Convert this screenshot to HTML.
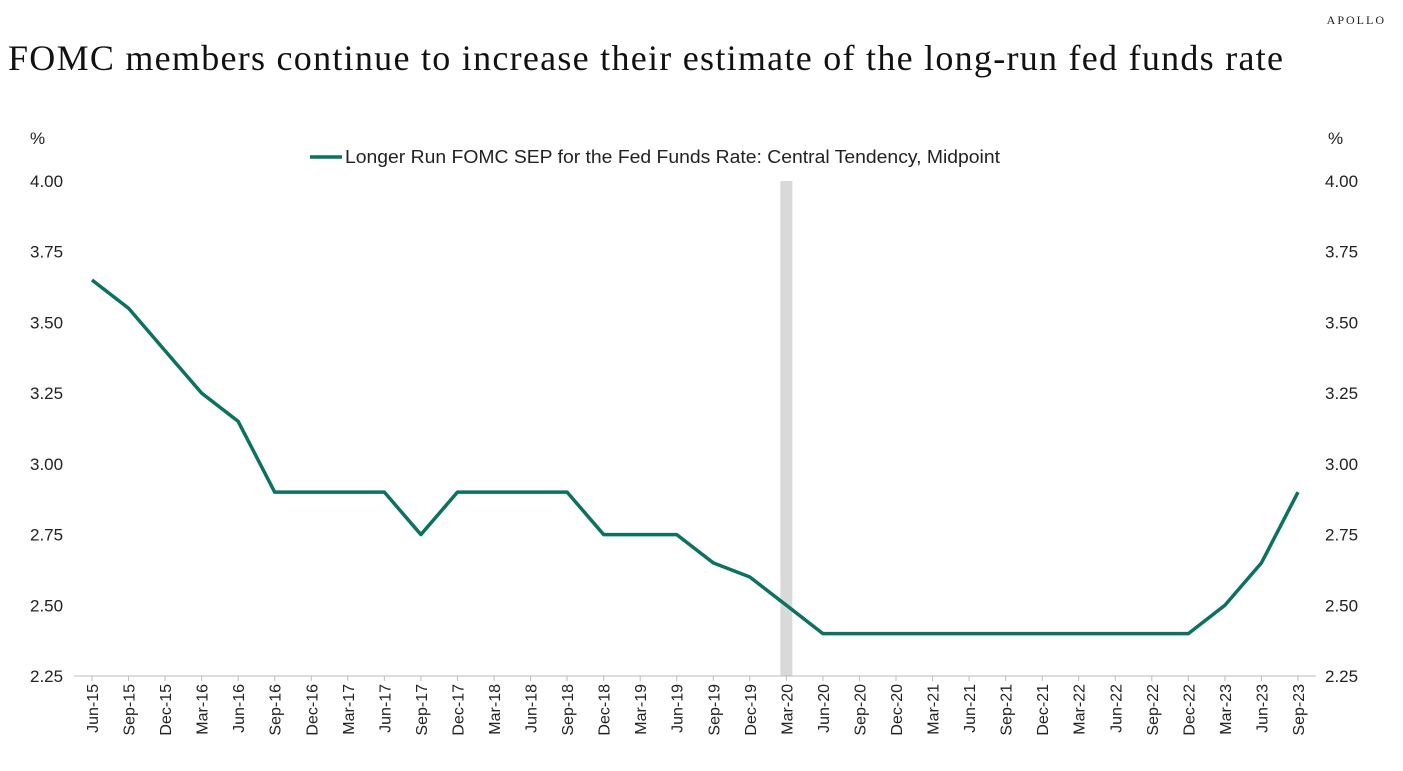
<!DOCTYPE html>
<html><head><meta charset="utf-8">
<style>
body{margin:0;background:#fff;width:1403px;height:766px;overflow:hidden;font-family:"Liberation Sans",sans-serif;}
svg text{font-family:"Liberation Sans",sans-serif;}
</style></head>
<body>
<svg id="chart" width="1403" height="766" xmlns="http://www.w3.org/2000/svg">
<text x="1386" y="24" text-anchor="end" font-size="12" letter-spacing="2" fill="#222" style="font-family:'Liberation Serif',serif">APOLLO</text>
<text x="8" y="70" font-size="36" fill="#111" textLength="1275" lengthAdjust="spacing" style="font-family:'Liberation Serif',serif">FOMC members continue to increase their estimate of the long-run fed funds rate</text>
<text x="30" y="144" font-size="17" fill="#222">%</text>
<text x="1328" y="144" font-size="17" fill="#222">%</text>
<g>
<line x1="310" y1="157" x2="342" y2="157" stroke="#0b7160" stroke-width="3.5"/>
<text x="345" y="163" font-size="18" fill="#222" textLength="655" lengthAdjust="spacingAndGlyphs">Longer Run FOMC SEP for the Fed Funds Rate: Central Tendency, Midpoint</text>
</g>
<g id="plot"></g>
</svg>
<script>
const categories=["Jun-15","Sep-15","Dec-15","Mar-16","Jun-16","Sep-16","Dec-16","Mar-17","Jun-17","Sep-17","Dec-17","Mar-18","Jun-18","Sep-18","Dec-18","Mar-19","Jun-19","Sep-19","Dec-19","Mar-20","Jun-20","Sep-20","Dec-20","Mar-21","Jun-21","Sep-21","Dec-21","Mar-22","Jun-22","Sep-22","Dec-22","Mar-23","Jun-23","Sep-23"];
const values=[3.65,3.55,3.40,3.25,3.15,2.9,2.9,2.9,2.9,2.75,2.9,2.9,2.9,2.9,2.75,2.75,2.75,2.65,2.6,2.5,2.4,2.4,2.4,2.4,2.4,2.4,2.4,2.4,2.4,2.4,2.4,2.5,2.65,2.9];
const yTicks=["2.25","2.50","2.75","3.00","3.25","3.50","3.75","4.00"];
const recessionCategory="Mar-20";
const NS="http://www.w3.org/2000/svg";
const g=document.getElementById('plot');
const x0=92,x1=1298,yMin=2.25,yMax=4.0,yB=676,yT=181;
const xs=i=>x0+(x1-x0)*i/(categories.length-1);
const ys=v=>yB-(v-yMin)/(yMax-yMin)*(yB-yT);
function mk(t,a){const e=document.createElementNS(NS,t);for(const k in a)e.setAttribute(k,a[k]);g.appendChild(e);return e;}
const ri=categories.indexOf(recessionCategory);
const rb=mk('rect',{x:xs(ri)-6,y:yT,width:12,height:yB-yT,fill:'#d9d9d9'});


const ax=mk('line',{x1:x0-18,y1:yB,x2:x1+18,y2:yB,stroke:'#bbb','stroke-width':1});


yTicks.forEach(t=>{
 const y=ys(parseFloat(t));
 const l=mk('text',{x:30,y:y+6,'font-size':17,fill:'#222'});l.textContent=t;
 
 
 const r=mk('text',{x:1325,y:y+6,'font-size':17,fill:'#222'});r.textContent=t;
 
 
});
categories.forEach((c,i)=>{
 const x=xs(i);
 const tk=mk('line',{x1:x,y1:yB,x2:x,y2:yB+5,stroke:'#bbb'});
 
 
 const t=mk('text',{x:0,y:0,'font-size':16,fill:'#222','text-anchor':'end',transform:`translate(${x+6},${yB+8}) rotate(-90)`});
 t.textContent=c;
 
 
});
const p=mk('polyline',{points:values.map((v,i)=>xs(i)+','+ys(v)).join(' '),fill:'none',stroke:'#0b7160','stroke-width':3.5,'stroke-linejoin':'round'});


</script>
</body></html>
